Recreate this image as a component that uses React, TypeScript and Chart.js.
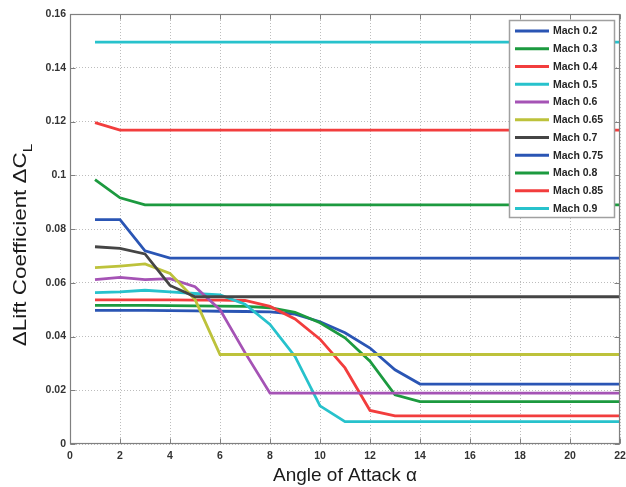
import React, { useEffect, useRef } from "react";
import { Chart, registerables } from "chart.js";

Chart.register(...registerables);

// ---------- data ----------
const angles = [1, 2, 3, 4, 5, 6, 7, 8, 9, 10, 11, 12, 13, 14, 15, 16, 17, 18, 19, 20, 21, 22];

const mach02 = [0.0497, 0.0497, 0.0497, 0.0496, 0.0495, 0.0494, 0.0493, 0.0492, 0.0483, 0.0455, 0.0414, 0.0357, 0.0276, 0.0223, 0.0223, 0.0223, 0.0223, 0.0223, 0.0223, 0.0223, 0.0223, 0.0223];
const mach03 = [0.0516, 0.0516, 0.0516, 0.0515, 0.0514, 0.0513, 0.0512, 0.0507, 0.049, 0.0451, 0.0395, 0.0308, 0.0183, 0.0158, 0.0158, 0.0158, 0.0158, 0.0158, 0.0158, 0.0158, 0.0158, 0.0158];
const mach04 = [0.0536, 0.0536, 0.0536, 0.0536, 0.0535, 0.0535, 0.0534, 0.0512, 0.0465, 0.039, 0.0283, 0.0125, 0.0105, 0.0105, 0.0105, 0.0105, 0.0105, 0.0105, 0.0105, 0.0105, 0.0105, 0.0105];
const mach05 = [0.0563, 0.0566, 0.0572, 0.0566, 0.056, 0.0555, 0.052, 0.0445, 0.0326, 0.0142, 0.0083, 0.0083, 0.0083, 0.0083, 0.0083, 0.0083, 0.0083, 0.0083, 0.0083, 0.0083, 0.0083, 0.0083];
const mach06 = [0.0612, 0.062, 0.0612, 0.0615, 0.0585, 0.05, 0.034, 0.0189, 0.0189, 0.0189, 0.0189, 0.0189, 0.0189, 0.0189, 0.0189, 0.0189, 0.0189, 0.0189, 0.0189, 0.0189, 0.0189, 0.0189];
const mach065 = [0.0656, 0.0662, 0.067, 0.0635, 0.0538, 0.0333, 0.0333, 0.0333, 0.0333, 0.0333, 0.0333, 0.0333, 0.0333, 0.0333, 0.0333, 0.0333, 0.0333, 0.0333, 0.0333, 0.0333, 0.0333, 0.0333];
const mach07 = [0.0734, 0.0728, 0.0707, 0.059, 0.0548, 0.0548, 0.0548, 0.0548, 0.0548, 0.0548, 0.0548, 0.0548, 0.0548, 0.0548, 0.0548, 0.0548, 0.0548, 0.0548, 0.0548, 0.0548, 0.0548, 0.0548];
const mach075 = [0.0835, 0.0835, 0.0719, 0.0692, 0.0692, 0.0692, 0.0692, 0.0692, 0.0692, 0.0692, 0.0692, 0.0692, 0.0692, 0.0692, 0.0692, 0.0692, 0.0692, 0.0692, 0.0692, 0.0692, 0.0692, 0.0692];
const mach08 = [0.0984, 0.0916, 0.089, 0.089, 0.089, 0.089, 0.089, 0.089, 0.089, 0.089, 0.089, 0.089, 0.089, 0.089, 0.089, 0.089, 0.089, 0.089, 0.089, 0.089, 0.089, 0.089];
const mach085 = [0.1196, 0.1168, 0.1168, 0.1168, 0.1168, 0.1168, 0.1168, 0.1168, 0.1168, 0.1168, 0.1168, 0.1168, 0.1168, 0.1168, 0.1168, 0.1168, 0.1168, 0.1168, 0.1168, 0.1168, 0.1168, 0.1168];
const mach09 = [0.1495, 0.1495, 0.1495, 0.1495, 0.1495, 0.1495, 0.1495, 0.1495, 0.1495, 0.1495, 0.1495, 0.1495, 0.1495, 0.1495, 0.1495, 0.1495, 0.1495, 0.1495, 0.1495, 0.1495, 0.1495, 0.1495];

const seriesNames = ["Mach 0.2", "Mach 0.3", "Mach 0.4", "Mach 0.5", "Mach 0.6", "Mach 0.65", "Mach 0.7", "Mach 0.75", "Mach 0.8", "Mach 0.85", "Mach 0.9"];
const seriesValues = [mach02, mach03, mach04, mach05, mach06, mach065, mach07, mach075, mach08, mach085, mach09];

const xTickValues = [0, 2, 4, 6, 8, 10, 12, 14, 16, 18, 20, 22];
const xTickLabels = ["0", "2", "4", "6", "8", "10", "12", "14", "16", "18", "20", "22"];
const yTickValues = [0, 0.02, 0.04, 0.06, 0.08, 0.1, 0.12, 0.14, 0.16];
const yTickLabels = ["0", "0.02", "0.04", "0.06", "0.08", "0.1", "0.12", "0.14", "0.16"];

const xTitle = "Angle of Attack \u03b1";
const yTitleMain = "\u0394Lift Coefficient \u0394C";
const yTitleSub = "L";

// ---------- styles ----------
const BLUE = "#2a55b4";
const GREEN = "#1c9a3f";
const RED = "#f23d3d";
const CYAN = "#27c2cc";
const PURPLE = "#a553b5";
const YELLOW = "#bdc23b";
const DARK = "#454545";
const seriesColors = [BLUE, GREEN, RED, CYAN, PURPLE, YELLOW, DARK, BLUE, GREEN, RED, CYAN];

const FONT = '"Liberation Sans", Arial, Helvetica, sans-serif';

const decorPlugin = {
  id: "decor",
  afterDraw(chart: any) {
    const { ctx, chartArea: a, scales } = chart;
    const xs = scales.x;
    const ys = scales.y;
    ctx.save();

    // frame
    const L = Math.round(a.left) + 0.5;
    const R = Math.round(a.right) - 0.5;
    const T = Math.round(a.top) + 0.5;
    const B = Math.round(a.bottom) - 0.5;
    ctx.strokeStyle = "#808080";
    ctx.lineWidth = 1.2;
    ctx.setLineDash([]);
    ctx.strokeRect(L, T, R - L, B - T);

    // inward ticks
    ctx.lineWidth = 1;
    ctx.beginPath();
    xTickValues.forEach((v) => {
      const px = Math.round(xs.getPixelForValue(v)) + 0.5;
      ctx.moveTo(px, B);
      ctx.lineTo(px, B - 5);
      ctx.moveTo(px, T);
      ctx.lineTo(px, T + 5);
    });
    yTickValues.forEach((v) => {
      const py = Math.round(ys.getPixelForValue(v)) + 0.5;
      ctx.moveTo(L, py);
      ctx.lineTo(L + 5, py);
      ctx.moveTo(R, py);
      ctx.lineTo(R - 5, py);
    });
    ctx.stroke();

    // legend
    const bx = 509.5, by = 20.5, bw = 105, bh = 197;
    ctx.fillStyle = "#ffffff";
    ctx.fillRect(bx, by, bw, bh);
    ctx.strokeStyle = "#a0a0a0";
    ctx.lineWidth = 1.5;
    ctx.strokeRect(bx, by, bw, bh);
    ctx.font = "bold 10.5px " + FONT;
    ctx.textBaseline = "middle";
    ctx.textAlign = "left";
    seriesNames.forEach((name, i) => {
      const cy = 31 + i * 17.75;
      ctx.strokeStyle = seriesColors[i];
      ctx.lineWidth = 3;
      ctx.beginPath();
      ctx.moveTo(515, cy);
      ctx.lineTo(549, cy);
      ctx.stroke();
      ctx.fillStyle = "#262626";
      ctx.fillText(name, 553, cy + 0.5);
    });

    // x title
    ctx.fillStyle = "#1a1a1a";
    ctx.font = "19px " + FONT;
    ctx.textAlign = "center";
    ctx.textBaseline = "alphabetic";
    ctx.fillText(xTitle, (a.left + a.right) / 2, 481);

    // y title with subscript
    ctx.save();
    ctx.translate(21, 245);
    ctx.rotate(-Math.PI / 2);
    ctx.scale(1.18, 1);
    ctx.font = "19px " + FONT;
    const wMain = ctx.measureText(yTitleMain).width;
    ctx.font = "13px " + FONT;
    const wSub = ctx.measureText(yTitleSub).width;
    const start = -(wMain + wSub) / 2;
    ctx.textAlign = "left";
    ctx.textBaseline = "middle";
    ctx.font = "19px " + FONT;
    ctx.fillText(yTitleMain, start, 0);
    ctx.font = "13px " + FONT;
    ctx.fillText(yTitleSub, start + wMain, 7);
    ctx.restore();

    ctx.restore();
  },
};

export default function App() {
  const ref = useRef<HTMLCanvasElement | null>(null);

  useEffect(() => {
    if (!ref.current) return;
    const datasets = seriesValues.map((vals, i) => ({
      label: seriesNames[i],
      data: angles.map((x, j) => ({ x, y: vals[j] })),
      borderColor: seriesColors[i],
      backgroundColor: seriesColors[i],
      borderWidth: 2.8,
      pointRadius: 0,
      tension: 0,
      fill: false,
      order: -i,
    }));

    const tickFont = { family: FONT, size: 10.5, weight: "bold" as const };

    const chart = new Chart(ref.current, {
      type: "line",
      data: { datasets },
      options: {
        responsive: false,
        animation: false,
        devicePixelRatio: 1,
        layout: { padding: { top: 14, right: 6, left: 0, bottom: 0 } },
        plugins: {
          legend: { display: false },
          tooltip: { enabled: false },
        },
        scales: {
          x: {
            type: "linear",
            min: 0,
            max: 22,
            afterBuildTicks: (s: any) => {
              s.ticks = xTickValues.map((v) => ({ value: v }));
            },
            ticks: {
              font: tickFont,
              color: "#333333",
              padding: 6,
              maxRotation: 0,
              autoSkip: false,
              callback: (v: any) => xTickLabels[xTickValues.indexOf(Number(v))] ?? "",
            },
            grid: { color: "#bdbdbd", lineWidth: 1, drawTicks: false },
            border: { display: false, dash: [1, 2] },
            afterFit: (s: any) => {
              s.height = 43;
              s.paddingLeft = 0;
              s.paddingRight = 0;
            },
          },
          y: {
            type: "linear",
            min: 0,
            max: 0.16,
            afterBuildTicks: (s: any) => {
              s.ticks = yTickValues.map((v) => ({ value: v }));
            },
            ticks: {
              font: tickFont,
              color: "#333333",
              padding: 4,
              autoSkip: false,
              callback: (v: any) => {
                const idx = yTickValues.findIndex((t) => Math.abs(t - Number(v)) < 1e-9);
                return idx >= 0 ? yTickLabels[idx] : "";
              },
            },
            grid: { color: "#bdbdbd", lineWidth: 1, drawTicks: false },
            border: { display: false, dash: [1, 2] },
            afterFit: (s: any) => {
              s.width = 70;
              s.paddingTop = 0;
              s.paddingBottom = 0;
            },
          },
        },
      },
      plugins: [decorPlugin],
    });
    return () => chart.destroy();
  }, []);

  return (
    <div style={{ position: "absolute", left: 0, top: 0, width: 626, height: 487, background: "#ffffff" }}>
      <canvas ref={ref} width={626} height={487} style={{ display: "block", width: 626, height: 487 }} />
    </div>
  );
}
